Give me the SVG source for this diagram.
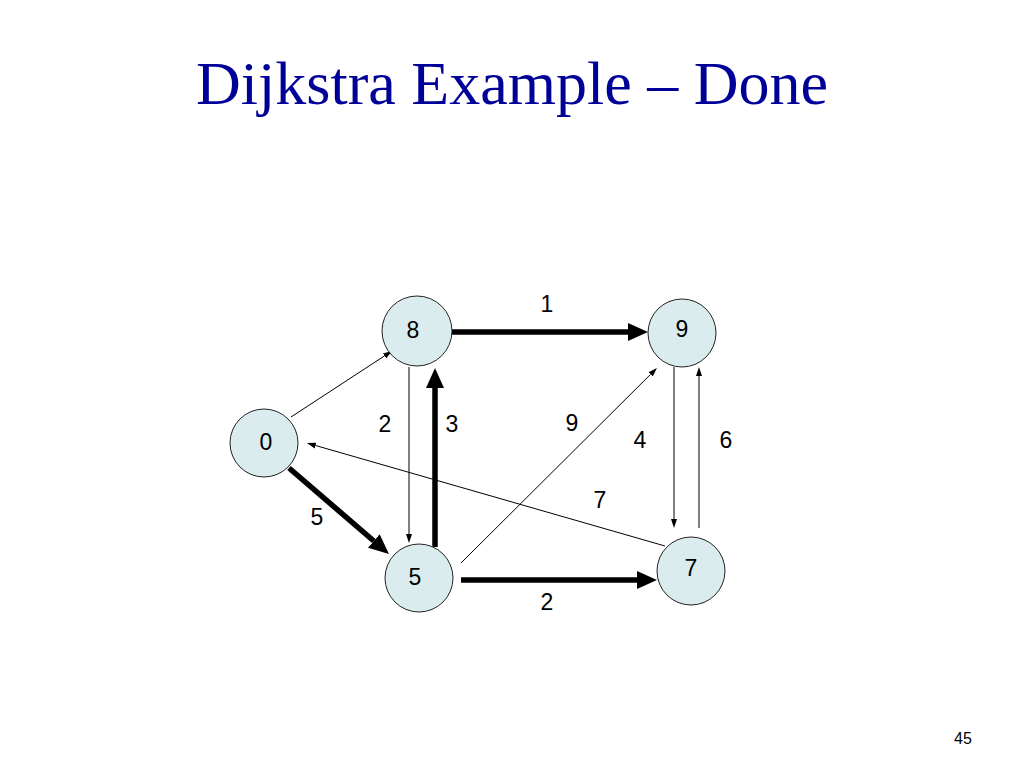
<svg xmlns="http://www.w3.org/2000/svg" width="1024" height="768" viewBox="0 0 1024 768">
<style>
.node circle{fill:#dbecef;stroke:#222;stroke-width:1}
.lbl{font-family:"Liberation Sans",Arial,sans-serif;font-size:23px;fill:#000;text-anchor:middle}
.thick{stroke:#000;stroke-width:5.5;fill:none}
.thin{stroke:#000;stroke-width:1;fill:none}
</style>
<defs>
<marker id="bigArrow" markerUnits="userSpaceOnUse" markerWidth="22" markerHeight="20" refX="0" refY="10" orient="auto" viewBox="0 0 22 20">
<path d="M0,1 L20,10 L0,19 z" fill="#000"/>
</marker>
<marker id="smallArrow" markerUnits="userSpaceOnUse" markerWidth="10" markerHeight="8" refX="0" refY="4" orient="auto" viewBox="0 0 10 8">
<path d="M0,1 L9,4 L0,7 z" fill="#000"/>
</marker>
</defs>
<rect width="1024" height="768" fill="#fff"/>
<text x="512" y="104" font-family="'Liberation Serif','Times New Roman',serif" font-size="62" fill="#000099" text-anchor="middle">Dijkstra Example – Done</text>
<g id="connectors">
<line class="thick" x1="452" y1="332" x2="628" y2="332" marker-end="url(#bigArrow)"/>
<line class="thick" x1="435" y1="547" x2="435" y2="388" marker-end="url(#bigArrow)"/>
<line class="thick" x1="289" y1="468" x2="373.8" y2="541" marker-end="url(#bigArrow)"/>
<line class="thick" x1="461" y1="580" x2="637" y2="580" marker-end="url(#bigArrow)"/>
<line class="thin" x1="291" y1="417" x2="384.5" y2="355.9" marker-end="url(#smallArrow)"/>
<line class="thin" x1="409" y1="367" x2="409" y2="534" marker-end="url(#smallArrow)"/>
<line class="thin" x1="665" y1="546" x2="315.6" y2="445.5" marker-end="url(#smallArrow)"/>
<line class="thin" x1="461" y1="563" x2="650.6" y2="374.3" marker-end="url(#smallArrow)"/>
<line class="thin" x1="674" y1="367" x2="674" y2="519" marker-end="url(#smallArrow)"/>
<line class="thin" x1="699" y1="528" x2="699" y2="376" marker-end="url(#smallArrow)"/>
<text class="lbl" x="547" y="312">1</text>
<text class="lbl" x="385" y="432">2</text>
<text class="lbl" x="452" y="432">3</text>
<text class="lbl" x="572" y="431">9</text>
<text class="lbl" x="640" y="448">4</text>
<text class="lbl" x="726" y="448">6</text>
<text class="lbl" x="600" y="508">7</text>
<text class="lbl" x="317" y="525">5</text>
<text class="lbl" x="547" y="610">2</text>
</g>
<g id="node0" class="node"><circle cx="264" cy="443" r="34"/><text class="lbl" x="266" y="450">0</text></g>
<g id="node8" class="node"><circle cx="417" cy="331" r="35"/><text class="lbl" x="413" y="338">8</text></g>
<g id="node5" class="node"><circle cx="419" cy="578" r="34"/><text class="lbl" x="415" y="585">5</text></g>
<g id="node9" class="node"><circle cx="682" cy="333" r="34"/><text class="lbl" x="682" y="337">9</text></g>
<g id="node7" class="node"><circle cx="691" cy="571" r="34"/><text class="lbl" x="691" y="576">7</text></g>
<text x="963" y="744" font-family="'Liberation Sans',Arial,sans-serif" font-size="16" fill="#000" text-anchor="middle">45</text>
</svg>
